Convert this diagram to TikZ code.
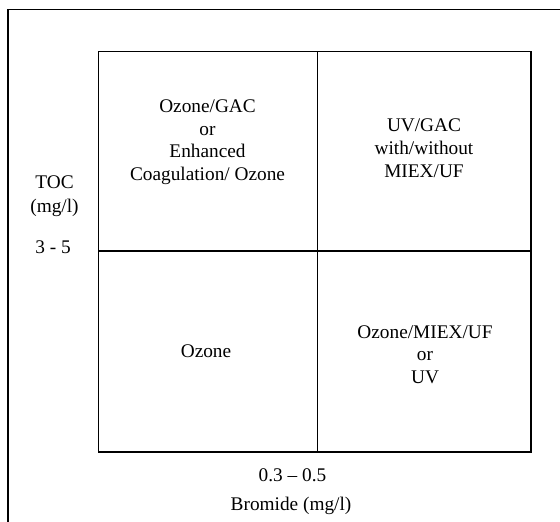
\documentclass[tikz,border=0pt]{standalone}
\usepackage{fontspec}
\setmainfont{Liberation Serif}
\begin{document}
\begin{tikzpicture}[x=1bp,y=-1bp,
  frame/.style={line width=1.6bp,black},
  lbl/.style={anchor=base,inner sep=0pt,font=\fontsize{19.3bp}{23bp}\selectfont}]
\useasboundingbox (0,0) rectangle (560,522);
% outer frame (open at right and bottom)
\draw[frame] (8,522) -- (8,9.5) -- (560,9.5);
% inner matrix
\draw[frame] (98.5,51.5) rectangle (530.7,451.7);
\draw[frame] (317.5,51.5) -- (317.5,451.7);
\draw[frame] (98.5,251) -- (530.7,251);
% top-left quadrant
\node[lbl] (tla) at (207.5,113) {Ozone/GAC};
\node[lbl] (tlb) at (207.5,135.5) {or};
\node[lbl] (tlc) at (207.5,158) {Enhanced};
\node[lbl] (tld) at (207.5,180.5) {Coagulation/ Ozone};
% top-right quadrant
\node[lbl] (tra) at (424,132) {UV/GAC};
\node[lbl] (trb) at (424,155) {with/without};
\node[lbl] (trc) at (424,178) {MIEX/UF};
% bottom-right quadrant
\node[lbl] (bra) at (425,338) {Ozone/MIEX/UF};
\node[lbl] (brb) at (425,360.5) {or};
\node[lbl] (brc) at (425,383) {UV};
% bottom-left quadrant
\node[lbl] (bla) at (206,357) {Ozone};
% y axis
\node[lbl] (toc) at (54.5,189) {TOC};
\node[lbl] (tocu) at (54.5,213) {(mg/l)};
\node[lbl] (tocv) at (53,253) {3 - 5};
% x axis
\node[lbl] (brv) at (292.5,481) {0.3 – 0.5};
\node[lbl] (brn) at (291,510.5) {Bromide (mg/l)};
\end{tikzpicture}
\end{document}
